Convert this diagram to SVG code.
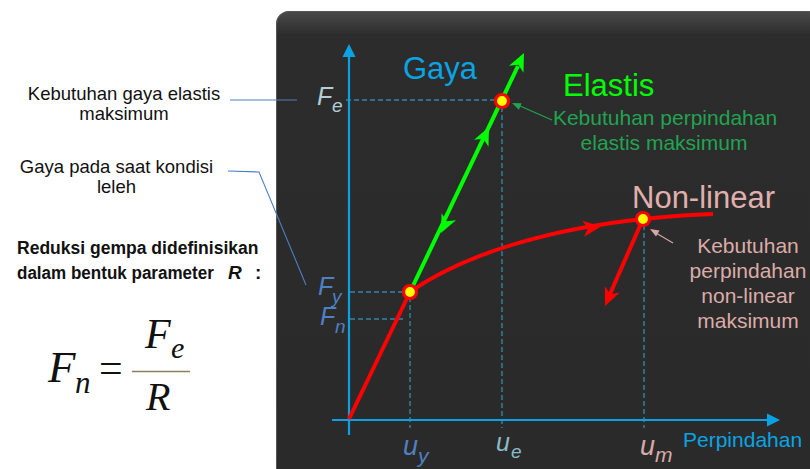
<svg xmlns="http://www.w3.org/2000/svg" width="810" height="469" viewBox="0 0 810 469">
<defs>
<linearGradient id="panelG" x1="0" y1="0" x2="0" y2="1">
<stop offset="0" stop-color="#4a4a4a"/>
<stop offset="0.05" stop-color="#2c2c2c"/>
<stop offset="1" stop-color="#2a2a2a"/>
</linearGradient>
<path id="ah" d="M0,0 L-18,-8 L-13,0 L-18,8 Z"/>
<path id="ahAx" d="M0,0 L-13,-6.5 L-13,6.5 Z"/>
<path id="ahThin" d="M0,0 L-9,-3.5 L-9,3.5 Z"/>
</defs>
<style>
.sans{font-family:"Liberation Sans",Arial,sans-serif}
.serif{font-family:"Liberation Serif","Times New Roman",serif;font-style:italic}
.lbl{font-family:"Liberation Sans",Arial,sans-serif;font-style:italic}
.axis{stroke:#0aa2e4;stroke-width:2.2;fill:none}
.dash{stroke:#2f86a6;stroke-width:1.4;stroke-dasharray:5,3;fill:none}
.lead{stroke:#4a80c4;stroke-width:1.1;fill:none}
.green{stroke:#00ff00;stroke-width:4;fill:none}
.red{stroke:#ff0000;stroke-width:4;fill:none}
.pt{fill:#ffff00;stroke:#ff0000;stroke-width:3.2}
.note{font-size:18.5px;fill:#111}
</style>
<rect x="0" y="0" width="810" height="469" fill="#ffffff"/>
<g id="panel">
<rect x="276" y="11" width="560" height="480" rx="13" fill="url(#panelG)"/>
<rect x="276.5" y="11.5" width="560" height="480" rx="13" fill="none" stroke="#555" stroke-width="1"/>
</g>
<g id="connectors">
<line class="lead" x1="230" y1="100" x2="297" y2="100"/>
<polyline class="lead" points="228,171 259,172 306,285"/>
<line class="dash" x1="346" y1="100" x2="497" y2="100"/>
<line class="dash" x1="502" y1="107" x2="502" y2="428"/>
<line class="dash" x1="350" y1="292" x2="406" y2="292"/>
<line class="dash" x1="350" y1="319" x2="404" y2="319"/>
<line class="dash" x1="410" y1="297" x2="410" y2="428"/>
<line class="dash" x1="644" y1="225" x2="644" y2="428"/>
<line class="axis" x1="349" y1="56" x2="349" y2="435"/>
<use href="#ahAx" transform="translate(349,44) rotate(-90)" fill="#0aa2e4"/>
<line class="axis" x1="332" y1="420" x2="768" y2="420"/>
<use href="#ahAx" transform="translate(780,420)" fill="#0aa2e4"/>
<line class="green" x1="410" y1="292" x2="518" y2="66"/>
<use href="#ah" transform="translate(524,53) rotate(-64.5)" fill="#00ff00"/>
<use href="#ah" transform="translate(489,127) rotate(-64.5)" fill="#00ff00"/>
<use href="#ah" transform="translate(441,233) rotate(115.5)" fill="#00ff00"/>
<line class="red" x1="349" y1="419" x2="410" y2="292"/>
<path class="red" d="M410,292 C470,250 560,228 643,219 Q680,215 713,214"/>
<use href="#ah" transform="translate(601,226.5) rotate(-7)" fill="#ff0000"/>
<line class="red" x1="643" y1="219" x2="610" y2="294"/>
<use href="#ah" transform="translate(605,306) rotate(113.6)" fill="#ff0000"/>
<line x1="552" y1="120" x2="520" y2="106" stroke="#22a350" stroke-width="1.2"/>
<use href="#ahThin" transform="translate(512,103) rotate(-157)" fill="#22a350"/>
<line x1="673" y1="243" x2="656" y2="233" stroke="#d4a8a6" stroke-width="1.2"/>
<use href="#ahThin" transform="translate(650,229) rotate(-150)" fill="#d4a8a6"/>
</g>
<g id="point-elastic"><circle class="pt" cx="502" cy="101" r="6.5"/></g>
<g id="point-yield"><circle class="pt" cx="410" cy="292" r="6.5"/></g>
<g id="point-nonlinear"><circle class="pt" cx="643" cy="219" r="6.5"/></g>
<g id="label-gaya"><text class="sans" x="403" y="79" font-size="31" fill="#0aa4e4">Gaya</text></g>
<g id="label-elastis"><text class="sans" x="563" y="96" font-size="31" fill="#00ff00">Elastis</text></g>
<g id="label-nonlinear"><text class="sans" x="632" y="208" font-size="31" fill="#e0b0ae">Non-linear</text></g>
<g id="note-elastis" class="sans" font-size="21" fill="#22a350" text-anchor="middle">
<text x="665" y="125">Kebutuhan perpindahan</text>
<text x="664" y="150">elastis maksimum</text>
</g>
<g id="note-nonlinear" class="sans" font-size="21" fill="#dcaca8" text-anchor="middle">
<text x="748" y="253">Kebutuhan</text>
<text x="748" y="278">perpindahan</text>
<text x="748" y="303">non-linear</text>
<text x="748" y="328">maksimum</text>
</g>
<g id="label-perpindahan"><text class="sans" x="683" y="447" font-size="21" fill="#0aa4e4">Perpindahan</text></g>
<g id="label-Fe" class="lbl" fill="#b4cdd6"><text x="317" y="105" font-size="25">F</text><text x="332" y="112" font-size="19">e</text></g>
<g id="label-Fy" class="lbl" fill="#4f80c4"><text x="318" y="295" font-size="25">F</text><text x="332" y="303" font-size="19">y</text></g>
<g id="label-Fn" class="lbl" fill="#4f80c4"><text x="320" y="325" font-size="25">F</text><text x="335" y="333" font-size="19">n</text></g>
<g id="label-uy" class="lbl" fill="#4f80c4"><text x="403" y="455" font-size="27">u</text><text x="418" y="463" font-size="21">y</text></g>
<g id="label-ue" class="lbl" fill="#8cbcc8"><text x="496" y="451" font-size="25">u</text><text x="511" y="458" font-size="19">e</text></g>
<g id="label-um" class="lbl" fill="#d8aaa8"><text x="640" y="455" font-size="27">u</text><text x="655" y="462" font-size="21">m</text></g>
<g id="note-Fe" class="sans note" text-anchor="middle">
<text x="124" y="100">Kebutuhan gaya elastis</text>
<text x="124" y="120">maksimum</text>
</g>
<g id="note-Fy" class="sans note" text-anchor="middle">
<text x="116.5" y="173">Gaya pada saat kondisi</text>
<text x="116.5" y="193">leleh</text>
</g>
<g id="reduksi" font-family="'Liberation Sans',Arial,sans-serif" font-weight="bold" font-size="19" fill="#111">
<text transform="translate(17,254) scale(0.923,1)">Reduksi gempa didefinisikan</text>
<text transform="translate(17,279) scale(0.897,1)">dalam bentuk parameter</text>
<text x="228" y="279" font-style="italic">R</text>
<text x="255" y="279">:</text>
</g>
<g id="formula" fill="#111">
<text class="serif" x="48" y="382" font-size="45">F</text>
<text class="serif" x="75" y="393" font-size="31">n</text>
<text x="99" y="382" font-size="42" font-family="'Liberation Serif','Times New Roman',serif">=</text>
<text class="serif" x="145" y="348" font-size="42">F</text>
<text class="serif" x="171" y="358" font-size="30">e</text>
<line x1="132" y1="371.5" x2="190" y2="371.5" stroke="#8a8060" stroke-width="1.5"/>
<text class="serif" x="146" y="410" font-size="40">R</text>
</g>
</svg>
